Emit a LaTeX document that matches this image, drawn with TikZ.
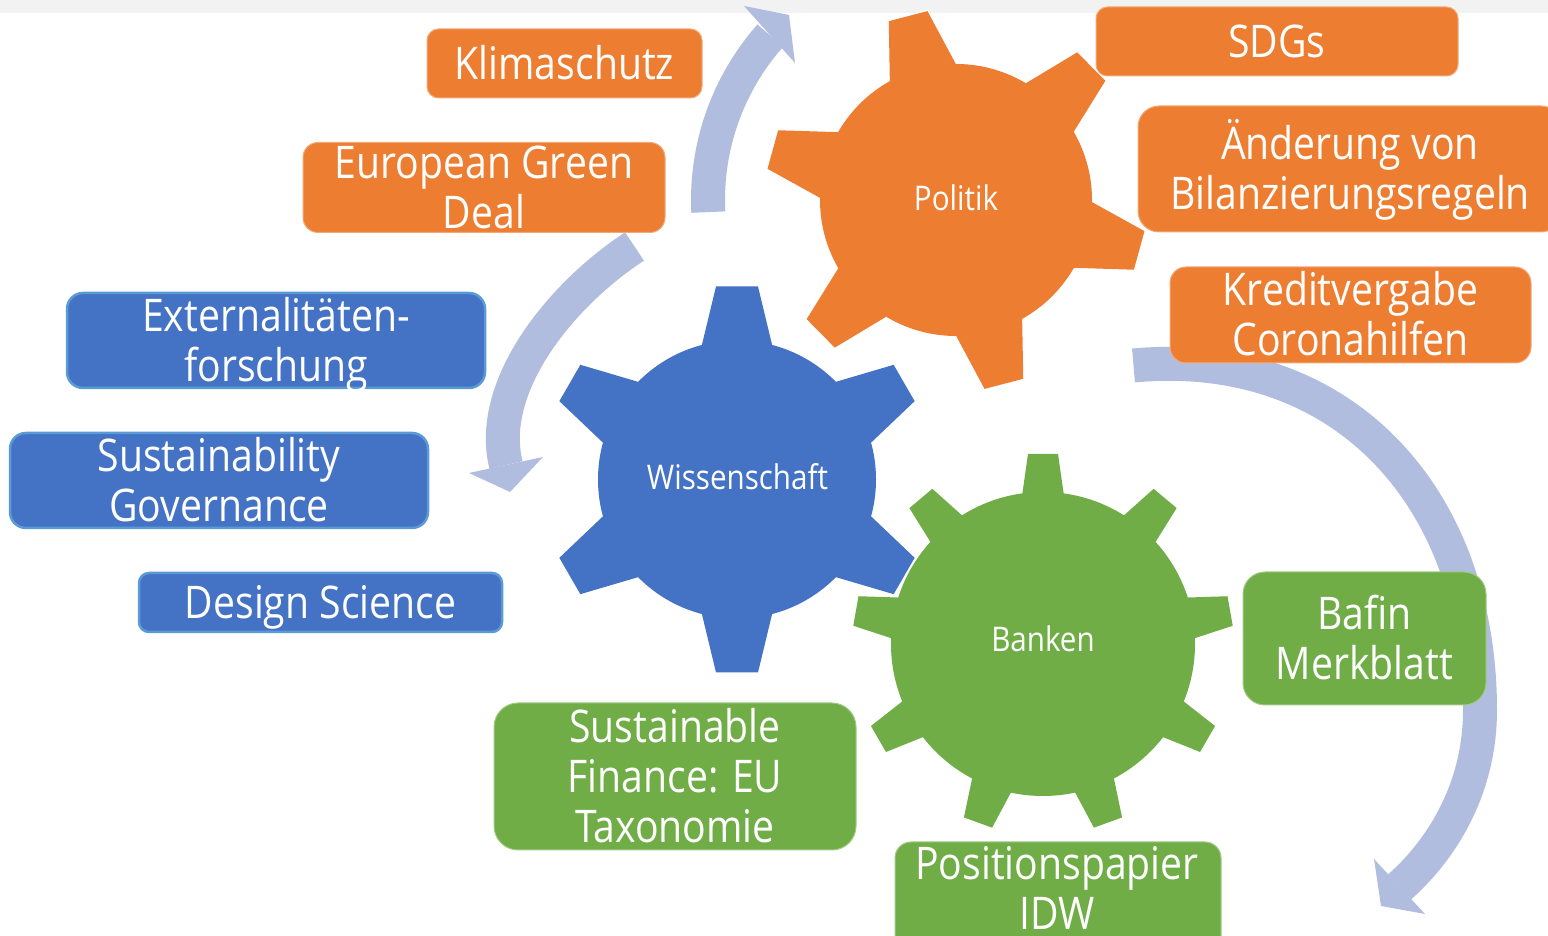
\documentclass[tikz,border=0pt]{standalone}
\usepackage{fontspec}
\setmainfont{Open Sans}[FakeStretch=0.87]
\definecolor{cOrange}{HTML}{ED7D31}
\definecolor{cBlue}{HTML}{4472C4}
\definecolor{cGreen}{HTML}{70AD47}
\definecolor{cArrow}{HTML}{B0BDDF}
\definecolor{cBand}{HTML}{F2F2F2}
\definecolor{cBlueEdge}{HTML}{5B9BD5}
\newcommand\tline[1]{\smash{#1}\rule[-4pt]{0pt}{40pt}}
\newcommand\gline[1]{\smash{#1}\rule[-4pt]{0pt}{28.3pt}}
% #1 colour, #2 cx, #3 cy, #4 r, #5 R, #6 tip half width, #7 base half width, #8 angles
\newcommand\mygear[8]{%
  \begin{scope}[shift={(#2,#3)}]
    \foreach \a in {#8}{%
      \draw[white,line width=3pt,rotate=\a] (#5,-#6) -- (#5,#6) -- (#4-4,#7) -- (#4-4,-#7) -- cycle;}
    \draw[white,line width=3pt] (0,0) circle (#4);
    \foreach \a in {#8}{%
      \fill[#1,rotate=\a] (#5,-#6) -- (#5,#6) -- (#4-4,#7) -- (0.5*#4,#7) -- (0.5*#4,-#7) -- (#4-4,-#7) -- cycle;}
    \fill[#1] (0,0) circle (#4);
  \end{scope}}
\tikzset{
  shaft/.style={draw=cArrow, line width=34pt},
  head/.style={fill=cArrow},
  boxtext/.style={text=white, align=center, inner sep=0pt, font=\fontsize{45}{50}\selectfont},
  obox/.style={boxtext, fill=cOrange, draw=cOrange!65!white, line width=1pt},
  bbox/.style={boxtext, fill=cBlue, draw=cBlueEdge, line width=2.5pt},
  gbox/.style={boxtext, fill=cGreen, draw=cGreen!65!white, line width=1pt},
  glabel/.style={text=white, inner sep=0pt, font=\fontsize{34}{40}\selectfont},
}
\begin{document}
\begin{tikzpicture}[x=1pt,y=1pt]
\useasboundingbox (0,0) rectangle (1548,936);
% top band
\fill[cBand] (0,923) rectangle (1548,936);
% arrows
\draw[shaft] (956,736) ++(182.8:248) arc[start angle=182.8,end angle=138.5,radius=248];
\fill[head] (744,930) -- (789,921) -- (795,873) -- cycle;
\draw[shaft] (634.5,689.5) .. controls (559.3,640.2) and (486.6,548.6) .. (506,471);
\fill[head] (469,463) -- (510,444) -- (543,479) -- cycle;
\draw[shaft] (1133.5,570.5) .. controls (1345,590) and (1480,436) .. (1480,226)
  .. controls (1480,146) and (1440.7,85.5) .. (1399.5,49);
\fill[head] (1374,77) -- (1381,30) -- (1425,22) -- cycle;
% gears
\mygear{cGreen}{1043}{292}{152}{190}{15}{21}{90,130,170,210,250,290,330,370,410}
\mygear{cBlue}{737}{456.5}{139}{193}{21}{35}{30,90,150,210,270,330}
\mygear{cOrange}{956}{736}{136}{190}{20}{34}{104.6,164.6,224.6,284.6,344.6,404.6}
\node[glabel] (wis) at (737.5,456.5) {\gline{Wissenschaft}};
\node[glabel] (pol) at (956,736) {\gline{Politik}};
\node[glabel] (ban) at (1043,295) {\gline{Banken}};
% orange boxes
\node[obox, minimum width=275pt, minimum height=69pt, rounded corners=11.5pt] (klima) at (564.5,872.5) {\tline{Klimaschutz}};
\node[obox, minimum width=362pt, minimum height=89pt, rounded corners=15pt] (egd) at (484,748.5) {\tline{European Green}\\\tline{Deal}};
\node[obox, minimum width=362pt, minimum height=69pt, rounded corners=11.5pt] (sdg) at (1277,894.5) {\tline{SDGs}};
\node[obox, minimum width=424pt, minimum height=126pt, rounded corners=21pt] (aend) at (1350,767) {\tline{Änderung von}\\\tline{Bilanzierungsregeln}};
\node[obox, minimum width=361pt, minimum height=96pt, rounded corners=16pt] (kred) at (1350.5,621) {\tline{Kreditvergabe}\\\tline{Coronahilfen}};
% blue boxes
\node[bbox, minimum width=418pt, minimum height=95pt, rounded corners=16pt] (ext) at (276,595.5) {\tline{Externalitäten-}\\\tline{forschung}};
\node[bbox, minimum width=418pt, minimum height=95pt, rounded corners=16pt] (sgov) at (219,455.5) {\tline{Sustainability}\\\tline{Governance}};
\node[bbox, minimum width=363pt, minimum height=59pt, rounded corners=10pt] (dsci) at (320.5,333.5) {\tline{Design Science}};
% green boxes
\node[gbox, minimum width=362pt, minimum height=147pt, rounded corners=24pt] (sfin) at (675,159.5) {\tline{Sustainable}\\\tline{Finance: EU}\\\tline{Taxonomie}};
\node[gbox, minimum width=326pt, minimum height=118pt, rounded corners=16pt] (posbox) at (1058,35) {};
\node[boxtext] (postext) at (1057,47) {\tline{Positionspapier}\\\tline{IDW}};
\node[gbox, minimum width=243pt, minimum height=133pt, rounded corners=22pt] (bafin) at (1364.5,297.5) {\tline{Bafin}\\\tline{Merkblatt}};
\end{tikzpicture}
\end{document}
